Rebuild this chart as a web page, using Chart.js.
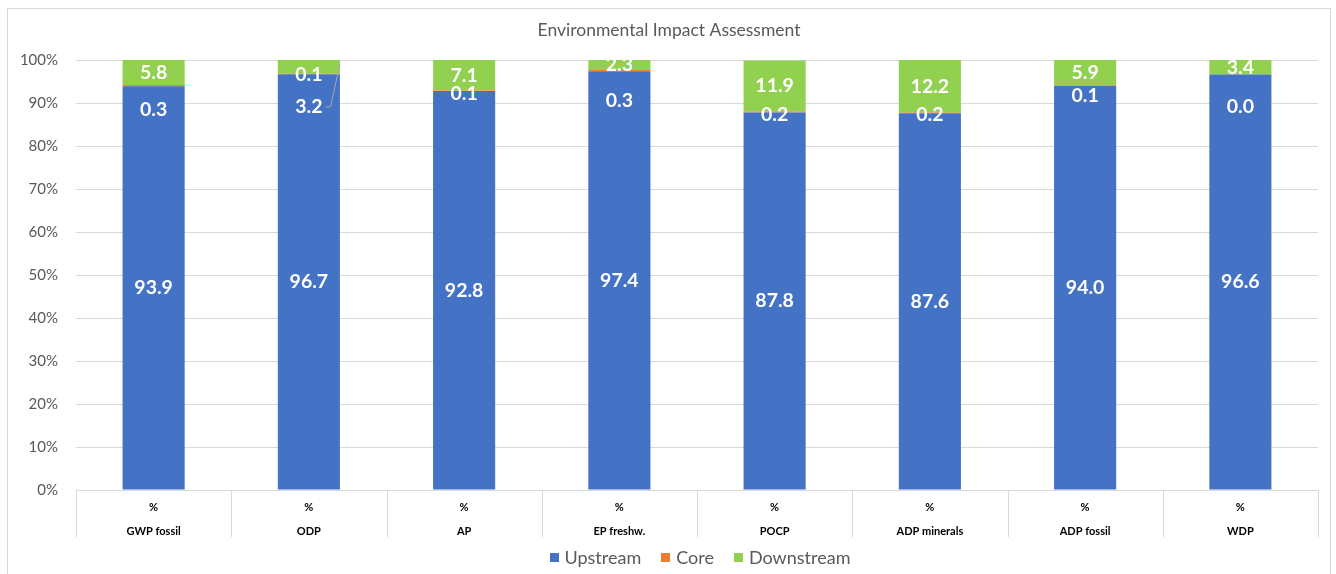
<!DOCTYPE html>
<html><head><meta charset="utf-8">
<script src="https://cdn.jsdelivr.net/npm/chart.js@4.4.0/dist/chart.umd.min.js"></script>
<style>
html,body{margin:0;padding:0;background:#fff;overflow:hidden;}
#wrap{position:absolute;left:0;top:0;width:1336px;height:574px;}
#frame{position:absolute;left:7px;top:8px;width:1324px;height:570px;border:1px solid #d9d9d9;box-sizing:border-box;pointer-events:none;}
</style></head><body>
<div id="wrap"><canvas id="c" width="1336" height="574"></canvas></div>
<div id="frame"></div>
<script>
const categories = ['GWP fossil','ODP','AP','EP freshw.','POCP','ADP minerals','ADP fossil','WDP'];
const unitLabels = ['%','%','%','%','%','%','%','%'];
const upstream   = [93.9, 96.7, 92.8, 97.4, 87.8, 87.6, 94.0, 96.6];
const core       = [0.3, 0.1, 0.1, 0.3, 0.2, 0.2, 0.1, 0.0];
const downstream = [5.8, 3.2, 7.1, 2.3, 11.9, 12.2, 5.9, 3.4];
const yTicks = [0,10,20,30,40,50,60,70,80,90,100];
// label nudges (px) reproducing the manual label placement of the original
const coreLabelNudge = [24, 1, 3, 30, 3, 2, 10, 32];
const downLabelNudge = [0, 40, 0, 0, 0, 0, 0, 0];

const FONT = 'Lato, "Open Sans", sans-serif';

const separators = {
  id: 'separators',
  afterDraw(chart) {
    const xs = chart.scales.x, ca = chart.chartArea, ctx = chart.ctx;
    const n = categories.length;
    const pts = [ca.left];
    for (let i = 0; i < n - 1; i++) pts.push((xs.getPixelForValue(i) + xs.getPixelForValue(i + 1)) / 2);
    pts.push(ca.right);
    ctx.save();
    ctx.strokeStyle = '#d9d9d9';
    ctx.lineWidth = 1;
    pts.forEach(p => {
      const x = Math.round(p) + 0.5;
      ctx.beginPath(); ctx.moveTo(x, ca.bottom); ctx.lineTo(x, ca.bottom + 47); ctx.stroke();
    });
    ctx.restore();
  }
};

// bottom legend drawn from the datasets (box, gap, text, item spacing like the original)
const bottomLegend = {
  id: 'bottomLegend',
  afterDraw(chart) {
    const ctx = chart.ctx;
    const ds = chart.data.datasets;
    const box = 9, gap = 6, spacing = 20, cy = 557;
    ctx.save();
    ctx.font = '18px ' + FONT;
    ctx.textBaseline = 'middle';
    ctx.textAlign = 'left';
    const widths = ds.map(d => box + gap + ctx.measureText(d.label).width);
    const total = widths.reduce((a, b) => a + b, 0) + spacing * (ds.length - 1);
    let x = (chart.chartArea.left + chart.chartArea.right) / 2 - total / 2 + 3;
    ds.forEach((d, i) => {
      ctx.fillStyle = d.backgroundColor;
      ctx.fillRect(Math.round(x), Math.round(cy - box / 2), box, box);
      ctx.fillStyle = '#595959';
      ctx.fillText(d.label, x + box + gap, cy + 1);
      x += widths[i] + spacing;
    });
    ctx.restore();
  }
};

const barLabels = {
  id: 'barLabels',
  afterDatasetsDraw(chart) {
    const ctx = chart.ctx;
    ctx.save();
    ctx.font = 'bold 19.5px ' + FONT;
    ctx.fillStyle = '#ffffff';
    ctx.textAlign = 'center';
    ctx.textBaseline = 'middle';
    chart.data.datasets.forEach((ds, di) => {
      const meta = chart.getDatasetMeta(di);
      meta.data.forEach((bar, j) => {
        const v = ds.data[j];
        let cy = (bar.y + bar.base) / 2;
        let cx = bar.x;
        if (di === 1) cy += coreLabelNudge[j];
        if (di === 2) cy += downLabelNudge[j];
        const txt = v.toFixed(1);
        ctx.fillText(txt, cx, cy);
        if (di === 2 && downLabelNudge[j] > 20) {
          const w = ctx.measureText(txt).width;
          const segMid = (bar.y + bar.base) / 2;
          const right = bar.x + bar.width / 2;
          ctx.save();
          ctx.strokeStyle = '#a6a6a6';
          ctx.lineWidth = 1;
          ctx.beginPath();
          ctx.moveTo(cx + w / 2 + 3, cy);
          ctx.lineTo(cx + w / 2 + 8, cy);
          ctx.lineTo(right, segMid - 3);
          ctx.stroke();
          ctx.restore();
        }
      });
    });
    ctx.restore();
  }
};

new Chart(document.getElementById('c'), {
  type: 'bar',
  data: {
    labels: categories.map((c, i) => [unitLabels[i], c]),
    datasets: [
      { label: 'Upstream', data: upstream, backgroundColor: '#4472C4' },
      { label: 'Core', data: core, backgroundColor: '#ED7D31' },
      { label: 'Downstream', data: downstream, backgroundColor: '#92D050' }
    ]
  },
  options: {
    responsive: false,
    animation: false,
    devicePixelRatio: 1,
    layout: { padding: { left: 20, right: 18, top: 4, bottom: 31 } },
    datasets: { bar: { barPercentage: 0.4, categoryPercentage: 1.0, borderWidth: 0 } },
    scales: {
      x: {
        stacked: true,
        grid: { display: false },
        border: { display: true, color: '#d9d9d9' },
        afterFit(scale) { scale.height = 53; },
        ticks: { color: '#000', font: { family: FONT, size: 11, weight: 'bold', lineHeight: 2.15 }, padding: -2, maxRotation: 0, autoSkip: false }
      },
      y: {
        stacked: true,
        min: 0, max: 100,
        afterBuildTicks(scale) { scale.ticks = yTicks.map(v => ({ value: v })); },
        afterFit(scale) { scale.width = 56; },
        grid: { color: '#d9d9d9', drawTicks: false },
        border: { display: false },
        ticks: { color: '#595959', font: { family: FONT, size: 15 }, padding: 18, callback: v => v + '%' }
      }
    },
    plugins: {
      title: { display: true, text: 'Environmental Impact Assessment', color: '#595959', font: { family: FONT, size: 17.5, weight: 'normal' }, padding: { top: 16, bottom: 19 } },
      legend: { display: false },
      tooltip: { enabled: false }
    }
  },
  plugins: [separators, barLabels, bottomLegend]
});
</script>
</body></html>
